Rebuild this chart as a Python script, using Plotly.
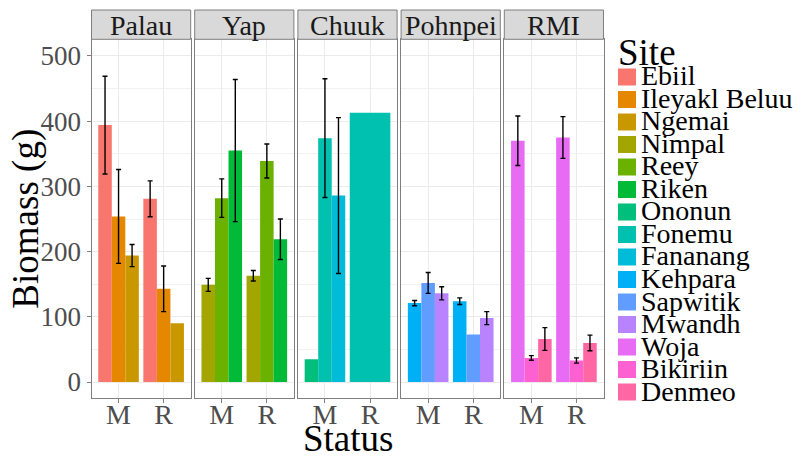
import plotly.graph_objects as go

# ---------------- data ----------------
regions = ["Palau", "Yap", "Chuuk", "Pohnpei", "RMI"]
statuses = ["M", "R"]
sites = ["Ebiil", "Ileyakl Beluu", "Ngemai", "Nimpal", "Reey", "Riken",
         "Ononun", "Fonemu", "Fananang", "Kehpara", "Sapwitik", "Mwandh",
         "Woja", "Bikiriin", "Denmeo"]
site_region = ["Palau", "Palau", "Palau", "Yap", "Yap", "Yap",
               "Chuuk", "Chuuk", "Chuuk", "Pohnpei", "Pohnpei", "Pohnpei",
               "RMI", "RMI", "RMI"]
site_colors = ["#F8766D", "#E58700", "#C99800", "#A3A500", "#6BB100", "#00BA38",
               "#00BF7D", "#00C0AF", "#00BCD8", "#00B0F6", "#619CFF", "#B983FF",
               "#E76BF3", "#FD61D1", "#FF67A4"]

rec_site = ["Ebiil", "Ileyakl Beluu", "Ngemai", "Ebiil", "Ileyakl Beluu", "Ngemai",
            "Nimpal", "Reey", "Riken", "Nimpal", "Reey", "Riken",
            "Ononun", "Fonemu", "Fananang", "Fonemu",
            "Kehpara", "Sapwitik", "Mwandh", "Kehpara", "Sapwitik", "Mwandh",
            "Woja", "Bikiriin", "Denmeo", "Woja", "Bikiriin", "Denmeo"]
rec_status = ["M", "M", "M", "R", "R", "R",
              "M", "M", "M", "R", "R", "R",
              "M", "M", "M", "R",
              "M", "M", "M", "R", "R", "R",
              "M", "M", "M", "R", "R", "R"]
rec_mean = [394, 254, 194, 281, 143, 90,
            149, 282, 355, 163, 339, 219,
            35, 374, 286, 413,
            121, 152, 136, 124, 73, 98,
            370, 37, 66, 375, 33, 60]
rec_se = [75, 72, 17, 27.5, 35, None,
          10, 29.5, 109, 8, 26, 31,
          None, 91, 119.5, None,
          4, 16, 10, 5, None, 10,
          38, 3.5, 17.5, 32, 4, 12]

# ---------------- geometry / style ----------------
PAGE_OFF = 8          # default body margin of the html page
W, H = 801 - PAGE_OFF, 457 - PAGE_OFF
FONT = "Liberation Serif"
panel_left, panel_w, panel_gap = 91.5, 99.2, 4.0
panel_top, panel_bottom = 39.3, 398.0
strip_top = 10.0
y_range = [-24.5, 525.6]
dodge = 0.9


def px_x(p):
    return (p - PAGE_OFF) / W


def px_y(p):
    return 1 - (p - PAGE_OFF) / H


fig = go.Figure()

# dodge positions computed from the data
for s_idx, site in enumerate(sites):
    region = site_region[s_idx]
    f_idx = regions.index(region)
    ax = "" if f_idx == 0 else str(f_idx + 1)
    with_err = dict(x=[], y=[], w=[], e=[])
    no_err = dict(x=[], y=[], w=[])
    for k in range(len(rec_site)):
        if rec_site[k] != site:
            continue
        st = rec_status[k]
        group = [rec_site[j] for j in range(len(rec_site))
                 if rec_status[j] == st and site_region[sites.index(rec_site[j])] == region]
        n = len(group)
        i = group.index(site)
        w = dodge / n
        xpos = statuses.index(st) + 1 - dodge / 2 + (i + 0.5) * w
        if rec_se[k] is None:
            no_err["x"].append(xpos); no_err["y"].append(rec_mean[k]); no_err["w"].append(w)
        else:
            with_err["x"].append(xpos); with_err["y"].append(rec_mean[k])
            with_err["w"].append(w); with_err["e"].append(rec_se[k])
    if with_err["x"]:
        fig.add_trace(go.Bar(
            x=with_err["x"], y=with_err["y"], width=with_err["w"], name=site,
            legendgroup=site,
            marker=dict(color=site_colors[s_idx], line=dict(width=0)),
            error_y=dict(type="data", array=with_err["e"], visible=True, color="black",
                         thickness=1.4, width=2.5),
            xaxis="x" + ax, yaxis="y" + ax, showlegend=False,
        ))
    if no_err["x"]:
        fig.add_trace(go.Bar(
            x=no_err["x"], y=no_err["y"], width=no_err["w"], name=site,
            legendgroup=site,
            marker=dict(color=site_colors[s_idx], line=dict(width=0)),
            xaxis="x" + ax, yaxis="y" + ax, showlegend=False,
        ))

layout = dict(
    width=W, height=H, margin=dict(l=0, r=0, t=0, b=0),
    paper_bgcolor="white", plot_bgcolor="white",
    barmode="overlay", font=dict(family=FONT),
    shapes=[], annotations=[],
)

ydom = [px_y(panel_bottom), px_y(panel_top)]
for f_idx, region in enumerate(regions):
    x0 = panel_left + f_idx * (panel_w + panel_gap)
    x1 = x0 + panel_w
    ax = "" if f_idx == 0 else str(f_idx + 1)
    layout["xaxis" + ax] = dict(
        domain=[px_x(x0), px_x(x1)], anchor="y" + ax, range=[0.4, 2.6],
        tickmode="array", tickvals=[1, 2], ticktext=statuses,
        showgrid=True, gridcolor="#EBEBEB", gridwidth=1,
        showline=True, mirror=True, linecolor="#7F7F7F", linewidth=1,
        ticks="outside", ticklen=4, tickcolor="#7F7F7F",
        ticklabelstandoff=-13,
        tickfont=dict(family=FONT, size=28, color="#4D4D4D"),
        zeroline=False, fixedrange=True,
    )
    layout["yaxis" + ax] = dict(
        domain=ydom, anchor="x" + ax, range=y_range,
        tickmode="array", tickvals=[0, 100, 200, 300, 400, 500],
        showgrid=True, gridcolor="#EBEBEB", gridwidth=1,
        minor=dict(tickvals=[50, 150, 250, 350, 450], showgrid=True,
                   gridcolor="#F2F2F2", gridwidth=0.6, ticks=""),
        showline=True, mirror=True, linecolor="#7F7F7F", linewidth=1,
        ticks="outside" if f_idx == 0 else "", ticklen=4, tickcolor="#7F7F7F",
        showticklabels=(f_idx == 0),
        tickfont=dict(family=FONT, size=27, color="#4D4D4D"),
        zeroline=False, fixedrange=True,
    )
    # facet strip
    layout["shapes"].append(dict(
        type="rect", xref="paper", yref="paper",
        x0=px_x(x0), x1=px_x(x1), y0=px_y(panel_top), y1=px_y(strip_top),
        fillcolor="#D9D9D9", line=dict(color="#7F7F7F", width=1), layer="above",
    ))
    layout["annotations"].append(dict(
        text=region, xref="paper", yref="paper", showarrow=False,
        x=px_x((x0 + x1) / 2), y=px_y((strip_top + panel_top) / 2 + 1),
        xanchor="center", yanchor="middle",
        font=dict(family=FONT, size=28, color="#1A1A1A"),
    ))

# axis titles
panels_right = panel_left + 5 * panel_w + 4 * panel_gap
layout["annotations"].append(dict(
    text="Status", xref="paper", yref="paper", showarrow=False,
    x=px_x((panel_left + panels_right) / 2), y=px_y(438),
    xanchor="center", yanchor="middle",
    font=dict(family=FONT, size=37, color="black"),
))
layout["annotations"].append(dict(
    text="Biomass (g)", xref="paper", yref="paper", showarrow=False,
    x=px_x(26), y=px_y((panel_top + panel_bottom) / 2),
    xanchor="center", yanchor="middle", textangle=-90,
    font=dict(family=FONT, size=37, color="black"),
))

# legend (drawn as keys + text, from the site list)
leg_x, leg_first, leg_step = 618, 77.0, 22.5
layout["annotations"].append(dict(
    text="Site", xref="paper", yref="paper", showarrow=False,
    x=px_x(leg_x - 2), y=px_y(52), xanchor="left", yanchor="middle",
    font=dict(family=FONT, size=37, color="black"),
))
for s_idx, site in enumerate(sites):
    cy = leg_first + s_idx * leg_step
    layout["shapes"].append(dict(
        type="rect", xref="paper", yref="paper",
        x0=px_x(leg_x), x1=px_x(leg_x + 18), y0=px_y(cy + 8.5), y1=px_y(cy - 8.5),
        fillcolor=site_colors[s_idx], line=dict(width=0),
    ))
    layout["annotations"].append(dict(
        text=site, xref="paper", yref="paper", showarrow=False,
        x=px_x(leg_x + 21), y=px_y(cy - 1), xanchor="left", yanchor="middle",
        font=dict(family=FONT, size=28, color="black"),
    ))

fig.update_layout(**layout)
fig.write_html("out.html")
